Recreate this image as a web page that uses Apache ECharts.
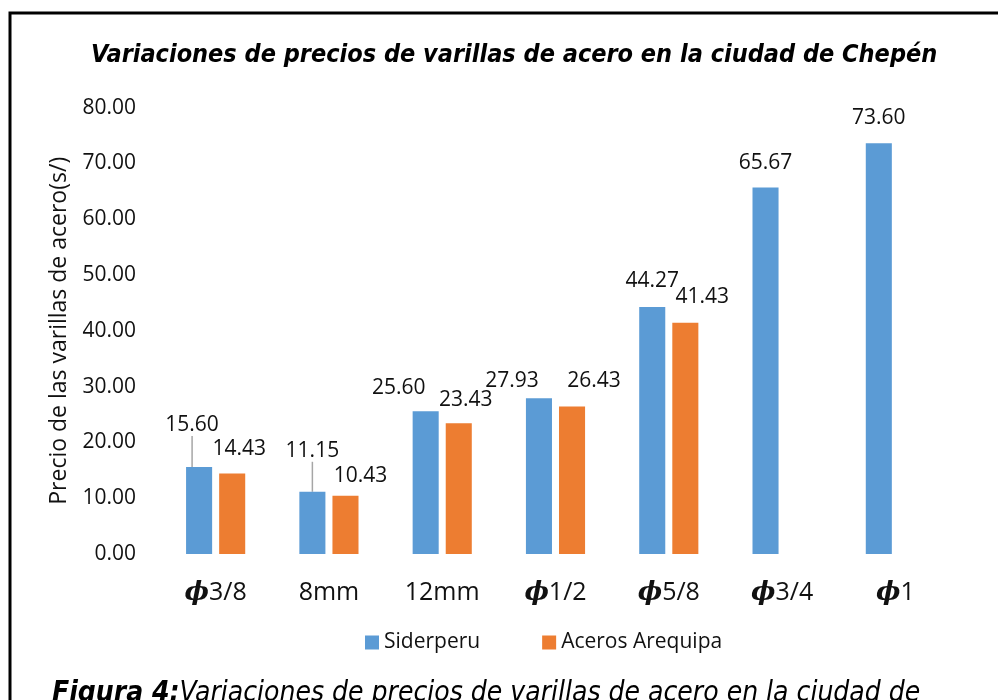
<!DOCTYPE html>
<html>
<head>
<meta charset="utf-8">
<script src="https://cdn.jsdelivr.net/npm/echarts@6/dist/echarts.min.js"></script>
<style>
  html, body { margin: 0; padding: 0; background: #fff; }
  #main { width: 998px; height: 700px; }
</style>
</head>
<body>
<div id="main"></div>
<script>
// datos
var categorias = ['ϕ3/8', '8mm', '12mm', 'ϕ1/2', 'ϕ5/8', 'ϕ3/4', 'ϕ1'];
var siderperu = [15.60, 11.15, 25.60, 27.93, 44.27, 65.67, 73.60];
var acerosArequipa = [14.43, 10.43, 23.43, 26.43, 41.43, null, null];
var ejeY = [0, 80, 10];

// desplazamiento manual de etiquetas (como en el Excel original)
var nudgeSid = [[-7, -26], [0, -25], [-27, -8], [-27, -2], [0, -10], [0, -9], [0, -10]];
var nudgeAce = [[7, -9], [15, -4], [7, -8], [22, -10], [17, -10], [0, 0], [0, 0]];
var conGuia = [0, 1];

var txt = '#111';
var fuente = 'Open Sans';

var myChart = echarts.init(document.getElementById('main'));

var option = {
    animation: false,
    backgroundColor: '#fff',
    title: {
        text: 'Variaciones de precios de varillas de acero en la ciudad de Chepén',
        left: 86,
        top: 38,
        textStyle: {
            fontFamily: 'DejaVu Sans Condensed',
            fontStyle: 'italic',
            fontWeight: 'bold',
            fontSize: 25,
            color: '#000'
        }
    },
    legend: {
        data: ['Siderperu', 'Aceros Arequipa'],
        left: 365,
        top: 632,
        padding: 0,
        itemWidth: 14,
        itemHeight: 14,
        itemGap: 62,
        icon: 'rect',
        textStyle: { fontFamily: fuente, fontSize: 21, color: txt }
    },
    grid: { left: 159, right: 46, top: 107.6, bottom: 146 },
    xAxis: {
        type: 'category',
        data: categorias,
        axisLine: { show: false },
        axisTick: { show: false },
        axisLabel: {
            interval: 0,
            margin: 26,
            color: txt,
            fontFamily: fuente,
            fontSize: 25,
            formatter: function (v) {
                if (v.charAt(0) === 'ϕ') return '{p|ϕ}' + v.slice(1);
                return v;
            },
            rich: {
                p: { fontFamily: 'DejaVu Serif', fontStyle: 'italic', fontWeight: 'bold', fontSize: 26, color: txt }
            }
        }
    },
    yAxis: {
        type: 'value',
        min: ejeY[0],
        max: ejeY[1],
        interval: ejeY[2],
        name: 'Precio de las varillas de acero(s/)',
        nameLocation: 'middle',
        nameGap: 88,
        nameTextStyle: { fontFamily: fuente, fontSize: 23, color: txt },
        axisLine: { show: false },
        axisTick: { show: false },
        splitLine: { show: false },
        axisLabel: {
            margin: 23,
            color: txt,
            fontFamily: fuente,
            fontSize: 21,
            formatter: function (v) { return v.toFixed(2); }
        }
    },
    series: [
        {
            name: 'Siderperu',
            type: 'bar',
            barWidth: '23%',
            barGap: '27%',
            itemStyle: { color: '#5B9BD5' },
            data: siderperu.map(function (v, i) {
                var d = { value: v };
                if (conGuia.indexOf(i) >= 0) d.labelLine = { show: true, lineStyle: { color: '#a6a6a6', width: 1.5 } };
                return d;
            }),
            label: {
                show: true, position: 'top', distance: 5,
                fontFamily: fuente, fontSize: 21, color: txt,
                formatter: function (p) { return p.value.toFixed(2); }
            },
            labelLayout: function (p) {
                return { dx: nudgeSid[p.dataIndex][0], dy: nudgeSid[p.dataIndex][1] };
            }
        },
        {
            name: 'Aceros Arequipa',
            type: 'bar',
            barWidth: '23%',
            barGap: '27%',
            itemStyle: { color: '#ED7D31' },
            data: acerosArequipa,
            label: {
                show: true, position: 'top', distance: 5,
                fontFamily: fuente, fontSize: 21, color: txt,
                formatter: function (p) { return p.value == null ? '' : p.value.toFixed(2); }
            },
            labelLayout: function (p) {
                return { dx: nudgeAce[p.dataIndex][0], dy: nudgeAce[p.dataIndex][1] };
            }
        }
    ],
    graphic: [
        {
            type: 'rect',
            shape: { x: 10, y: 13, width: 1100, height: 800 },
            style: { fill: null, stroke: '#000', lineWidth: 3 },
            silent: true
        },
        {
            type: 'text',
            left: 52,
            top: 680,
            style: {
                text: '{b|Figura 4:}Variaciones de precios de varillas de acero en la ciudad de',
                font: 'italic 28px "DejaVu Sans Condensed"',
                fill: '#000',
                rich: {
                    b: { fontFamily: 'DejaVu Sans Condensed', fontStyle: 'italic', fontWeight: 'bold', fontSize: 28, fill: '#000' }
                }
            }
        }
    ]
};

myChart.setOption(option);
</script>
</body>
</html>
